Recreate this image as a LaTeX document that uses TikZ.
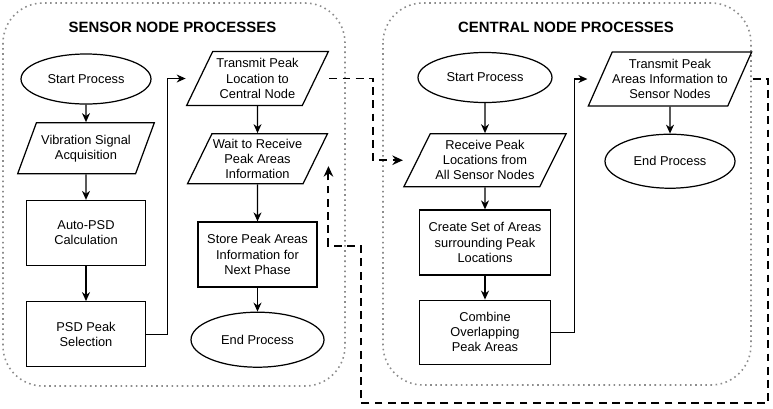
\documentclass[tikz,border=0pt]{standalone}
\usepackage{fontspec}
\setmainfont{Liberation Sans}
\usetikzlibrary{arrows.meta, positioning, shapes.geometric}

\begin{document}
\begin{tikzpicture}[
  font=\fontsize{7.3}{8.6}\selectfont,
  proc/.style={draw, line width=0.7pt, minimum width=2.38cm, minimum height=1.3cm,
               align=center, inner sep=1pt},
  term/.style={draw, ellipse, line width=0.7pt, minimum width=2.6cm, minimum height=1.0cm,
               align=center, inner sep=0pt},
  io/.style={draw, trapezium, trapezium left angle=61, trapezium right angle=119,
             trapezium stretches=true, line width=0.7pt, minimum height=1.06cm,
             align=center, inner xsep=0pt, inner ysep=1pt},
  group/.style={draw=black!45, dotted, line width=0.9pt, rounded corners=0.8cm},
  title/.style={font=\fontsize{8.5}{10}\selectfont\bfseries},
  arr/.style={-{Stealth[length=1.8mm, width=1.6mm]}, line width=0.7pt},
  link/.style={-{Stealth[length=2.1mm, width=1.9mm]}, line width=1.1pt,
               dash pattern=on 4.5pt off 3pt},
  node distance=5mm
]
  \useasboundingbox (0,0) rectangle (15.46,-8.16);

  % containers
  \draw[group] (0.06,-0.06) rectangle (6.9,-7.72);
  \draw[group] (7.66,-0.06) rectangle (15.02,-7.7);
  \node[title] (sensorttl) at (3.45,-0.54) {SENSOR NODE PROCESSES};
  \node[title] (centralttl) at (11.32,-0.54) {CENTRAL NODE PROCESSES};

  % sensor node
  \node[term] (start1) at (1.72,-1.58) {Start Process};
  \node[io, minimum width=2.74cm, minimum height=1.02cm, below=3.5mm of start1] (vib)
    {Vibration Signal\\Acquisition};
  \node[proc, below=5.1mm of vib] (auto) {Auto-PSD\\Calculation};
  \node[proc, below=7mm of auto] (psd) {PSD Peak\\Selection};

  \node[io, minimum width=2.84cm, minimum height=1.08cm] (tx1) at (5.15,-1.57)
    {Transmit Peak\\Location to\\Central Node};
  \node[io, minimum width=2.8cm, minimum height=1.0cm, below=5.4mm of tx1] (wait)
    {Wait to Receive\\Peak Areas\\Information};
  \node[proc, below=7.4mm of wait] (store) {Store Peak Areas\\Information for\\Next Phase};
  \node[term, minimum width=2.66cm, minimum height=1.1cm, below=4.8mm of store] (end1)
    {End Process};

  % central node
  \node[term, minimum width=2.68cm] (start2) at (9.7,-1.55) {Start Process};
  \node[io, minimum width=3.26cm, below=6mm of start2] (rcv)
    {Receive Peak\\Locations from\\All Sensor Nodes};
  \node[proc, minimum width=2.62cm, below=4.4mm of rcv] (create)
    {Create Set of Areas\\surrounding Peak\\Locations};
  \node[proc, minimum width=2.62cm, minimum height=1.28cm, below=4.8mm of create] (combine)
    {Combine\\Overlapping\\Peak Areas};

  \node[io, minimum width=3.08cm, minimum height=1.08cm] (tx2) at (13.4,-1.58)
    {Transmit Peak\\Areas Information to\\Sensor Nodes};
  \node[term, minimum height=1.08cm, below=5.4mm of tx2] (end2) {End Process};

  % flow
  \draw[arr] (start1) -- (vib);
  \draw[arr] (vib) -- (auto);
  \draw[arr] (auto) -- (psd);
  \draw[arr] (psd.east) -- ++(0.42,0) |- (tx1.bottom left corner |- tx1.center);
  \draw[arr] (tx1) -- (wait);
  \draw[arr] (wait) -- (store);
  \draw[arr] (store) -- (end1);

  \draw[arr] (start2) -- (rcv);
  \draw[arr] (rcv) -- (create);
  \draw[arr] (create) -- (combine);
  \draw[arr] (combine.east) -- ++(0.46,0) |- (tx2.bottom left corner |- tx2.center);
  \draw[arr] (tx2) -- (end2);

  % messages between nodes
  \draw[link] (tx1.top right corner |- tx1.center) -- ++(0.88,0)
    |- (rcv.bottom left corner |- rcv.center);
  \coordinate (waitin) at ([yshift=-6.6mm]wait.top right corner);
  \draw[link] (tx2.top right corner |- tx2.center) -| (15.36,-8.06)
    -| (7.22,-4.92) -| (waitin);
\end{tikzpicture}
\end{document}
